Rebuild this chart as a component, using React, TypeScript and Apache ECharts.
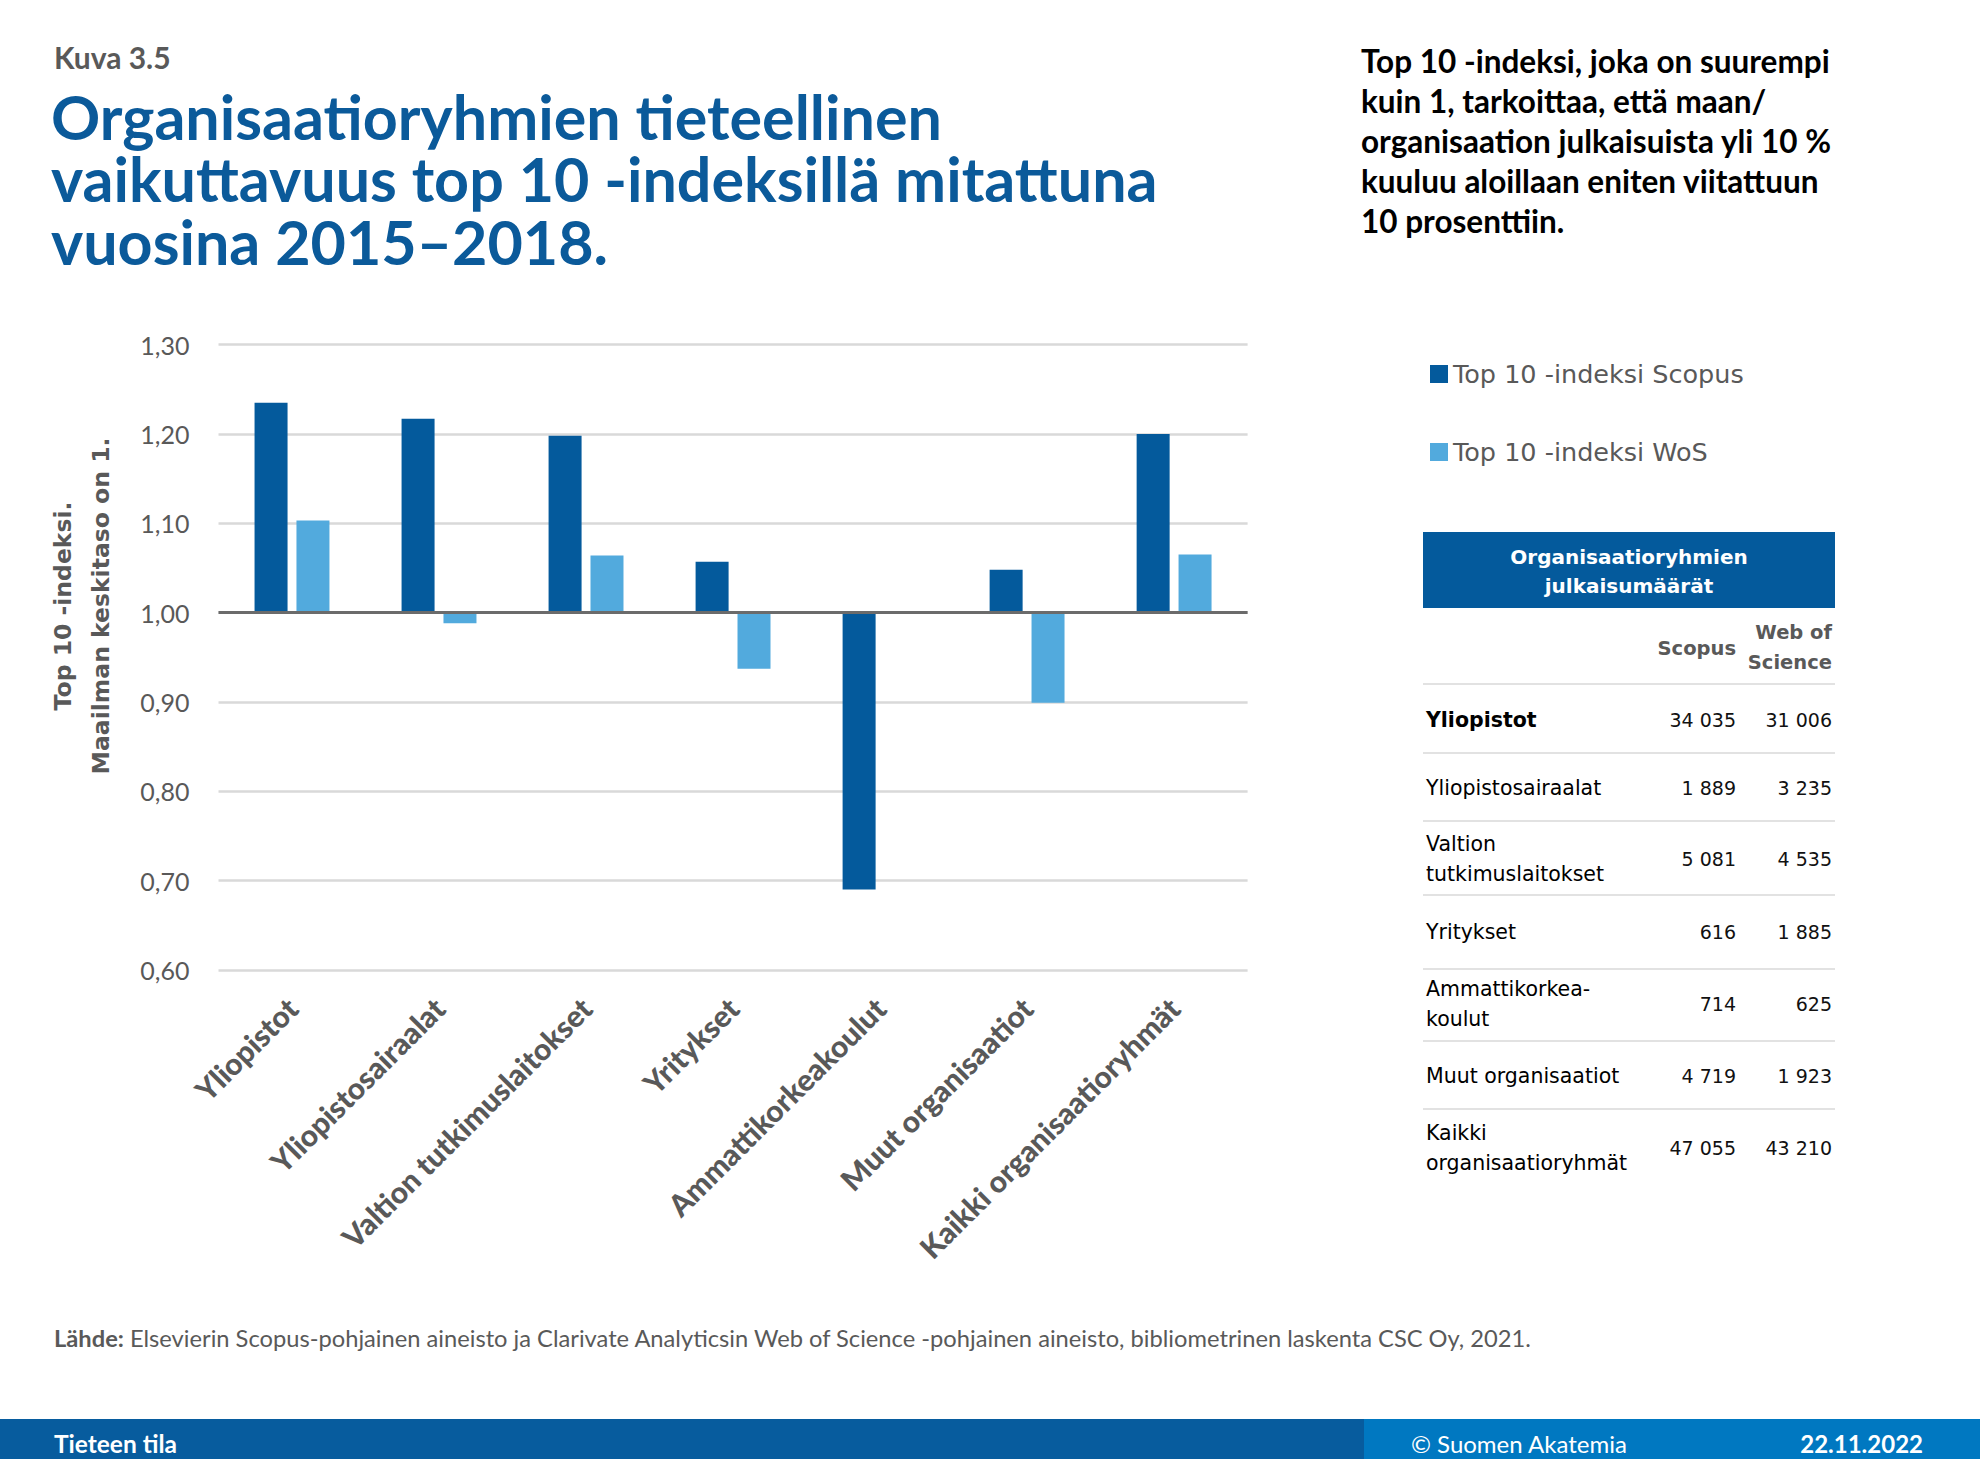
import React, { useEffect, useRef } from "react";
import * as echarts from "echarts";

const categories = [
  "Yliopistot",
  "Yliopistosairaalat",
  "Valtion tutkimuslaitokset",
  "Yritykset",
  "Ammattikorkeakoulut",
  "Muut organisaatiot",
  "Kaikki organisaatioryhmät",
];
const scopusIndex = [1.235, 1.217, 1.198, 1.057, 0.69, 1.048, 1.2];
const wosIndex: (number | null)[] = [1.103, 0.988, 1.064, 0.937, null, 0.899, 1.065];
const seriesNames = ["Top 10 -indeksi Scopus", "Top 10 -indeksi WoS"];
const baseline = 1.0;

const titleLines = [
  "Organisaatioryhmien tieteellinen",
  "vaikuttavuus top 10 -indeksillä mitattuna",
  "vuosina 2015–2018.",
];
const tableTitle = "Organisaatioryhmien\njulkaisumäärät";
const tableColumns = ["Scopus", "Web of\nScience"];
const tableRowLabels = [
  "Yliopistot",
  "Yliopistosairaalat",
  "Valtion\ntutkimuslaitokset",
  "Yritykset",
  "Ammattikorkea-\nkoulut",
  "Muut organisaatiot",
  "Kaikki\norganisaatioryhmät",
];
const scopusCounts = [34035, 1889, 5081, 616, 714, 4719, 47055];
const wosCounts = [31006, 3235, 4535, 1885, 625, 1923, 43210];

const C_DARK = "#045a9c";
const C_LIGHT = "#52aadd";
const C_GRAY = "#595959";
const C_TITLE = "#0b5a9a";

const fmtNum = (n: number) => {
  const s = String(n);
  return s.length > 3 ? s.slice(0, s.length - 3) + " " + s.slice(s.length - 3) : s;
};

export default function App() {
  const ref = useRef<HTMLDivElement>(null);
  useEffect(() => {
    document.body.style.margin = "0";
    const chart = echarts.init(ref.current!, null, { renderer: "svg" });

    const tX0 = 1423, tX1 = 1835;
    const colRight = [1736, 1832];
    const sepYs = [684, 753, 821, 895, 969, 1041, 1109];
    const rowCenters = [720, 788, 859, 932, 1004, 1076, 1148];
    const titleCenters = [116, 178.5, 241];
    const g: any[] = [];
    g.push({ type: "text", left: 54, top: 42, style: { text: "Kuva 3.5", font: "bold 30px Lato", fill: C_GRAY } });
    titleLines.forEach((t, i) => {
      g.push({
        type: "text", x: 51, y: titleCenters[i],
        style: { text: t, font: "bold 61px Lato", fill: C_TITLE, verticalAlign: "middle" },
      });
    });
    g.push({
      type: "text", left: 1361, top: 41,
      style: {
        text: "Top 10 -indeksi, joka on suurempi\nkuin 1, tarkoittaa, että maan/\norganisaation julkaisuista yli 10 %\nkuuluu aloillaan eniten viitattuun\n10 prosenttiin.",
        font: "bold 31.5px Lato", fill: "#000", lineHeight: 40,
      },
    });
    g.push({
      type: "text", x: 82, y: 606, rotation: Math.PI / 2,
      style: {
        text: "Top 10 -indeksi.\nMaailman keskitaso on 1.",
        font: "bold 23.5px 'DejaVu Sans'", fill: C_GRAY, align: "center", verticalAlign: "middle", lineHeight: 38,
      },
    });
    g.push({ type: "rect", shape: { x: tX0, y: 532, width: tX1 - tX0, height: 76 }, style: { fill: C_DARK } });
    g.push({
      type: "text", x: (tX0 + tX1) / 2, y: 571,
      style: { text: tableTitle, font: "bold 20px 'DejaVu Sans'", fill: "#fff", align: "center", verticalAlign: "middle", lineHeight: 29 },
    });
    g.push({ type: "text", x: colRight[0], y: 648, style: { text: tableColumns[0], font: "bold 19.5px 'DejaVu Sans'", fill: C_GRAY, align: "right", verticalAlign: "middle" } });
    g.push({ type: "text", x: colRight[1], y: 647, style: { text: tableColumns[1], font: "bold 19.5px 'DejaVu Sans'", fill: C_GRAY, align: "right", verticalAlign: "middle", lineHeight: 30 } });
    sepYs.forEach((y) => {
      g.push({ type: "line", shape: { x1: tX0, y1: y, x2: tX1, y2: y }, style: { stroke: "#d9d9d9", lineWidth: 1.5 } });
    });
    tableRowLabels.forEach((lab, i) => {
      const y = rowCenters[i];
      g.push({
        type: "text", x: 1426, y,
        style: { text: lab, font: (i === 0 ? "bold " : "") + "20.5px 'DejaVu Sans'", fill: "#000", verticalAlign: "middle", lineHeight: 30 },
      });
      g.push({ type: "text", x: colRight[0], y, style: { text: fmtNum(scopusCounts[i]), font: "19px 'DejaVu Sans'", fill: "#111", align: "right", verticalAlign: "middle" } });
      g.push({ type: "text", x: colRight[1], y, style: { text: fmtNum(wosCounts[i]), font: "19px 'DejaVu Sans'", fill: "#111", align: "right", verticalAlign: "middle" } });
    });
    g.push({
      type: "text", left: 54, top: 1326,
      style: {
        text: "{b|Lähde:} Elsevierin Scopus-pohjainen aineisto ja Clarivate Analyticsin Web of Science -pohjainen aineisto, bibliometrinen laskenta CSC Oy, 2021.",
        font: "23.7px Lato", fill: C_GRAY,
        rich: { b: { font: "bold 23.7px Lato", fill: C_GRAY } },
      },
    });
    g.push({ type: "rect", shape: { x: 0, y: 1419, width: 1364, height: 40 }, style: { fill: "#075c9e" } });
    g.push({ type: "rect", shape: { x: 1364, y: 1419, width: 616, height: 40 }, style: { fill: "#0078c1" } });
    g.push({ type: "text", x: 54, y: 1443, style: { text: "Tieteen tila", font: "bold 24.5px Lato", fill: "#fff", verticalAlign: "middle" } });
    g.push({ type: "text", x: 1411, y: 1443, style: { text: "© Suomen Akatemia", font: "24px Lato", fill: "#fff", verticalAlign: "middle" } });
    g.push({ type: "text", x: 1923, y: 1443, style: { text: "22.11.2022", font: "bold 24px Lato", fill: "#fff", align: "right", verticalAlign: "middle" } });

    const dev = (v: number | null) => (v == null ? null : +(v - baseline).toFixed(4));

    chart.setOption({
      animation: false,
      backgroundColor: "#fff",
      textStyle: { fontFamily: "Lato" },
      grid: { left: 218.5, right: 732.4, top: 344.7, bottom: 489.2, containLabel: false },
      legend: {
        orient: "vertical", left: 1425, top: 356, itemWidth: 18, itemHeight: 18, itemGap: 52, icon: "rect",
        textStyle: { fontFamily: "DejaVu Sans", fontSize: 25.5, color: C_GRAY },
        data: seriesNames,
      },
      xAxis: {
        type: "category", data: categories,
        axisLine: { show: false }, axisTick: { show: false },
        axisLabel: { rotate: 45, interval: 0, margin: 33, fontFamily: "Lato", fontWeight: 900, fontSize: 30, color: C_GRAY },
      },
      yAxis: {
        type: "value", min: -0.4, max: 0.3, interval: 0.1,
        axisLine: { show: false }, axisTick: { show: false },
        splitLine: { lineStyle: { color: "#d9d9d9", width: 2.5 } },
        axisLabel: {
          margin: 29, fontFamily: "Lato", fontSize: 25, color: C_GRAY,
          formatter: (v: number) => (v + baseline).toFixed(2).replace(".", ","),
        },
      },
      series: [
        {
          name: seriesNames[0], type: "bar", data: scopusIndex.map(dev), barWidth: 33, barGap: "27%",
          itemStyle: { color: C_DARK },
          markLine: {
            silent: true, symbol: "none", label: { show: false },
            lineStyle: { color: "#6b6b6b", width: 3, type: "solid" },
            data: [{ yAxis: 0 }],
          },
        },
        {
          name: seriesNames[1], type: "bar", data: wosIndex.map(dev), barWidth: 33, barGap: "27%",
          itemStyle: { color: C_LIGHT },
        },
      ],
      graphic: g,
    });
    return () => chart.dispose();
  }, []);
  return <div ref={ref} style={{ width: 1980, height: 1459 }} />;
}
